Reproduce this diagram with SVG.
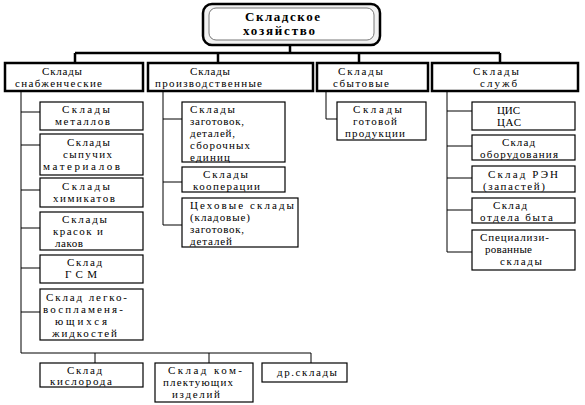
<svg xmlns="http://www.w3.org/2000/svg" width="585" height="405" viewBox="0 0 585 405">
<style>
text{font-family:"Liberation Serif","DejaVu Serif","Times New Roman",serif;font-size:11px;fill:#000}
.t{font-weight:bold;font-size:13px}
.b1{fill:#fff;stroke:#000;stroke-width:2.5}
.b2{fill:#fff;stroke:#000;stroke-width:1.2}
.c1{fill:none;stroke:#000;stroke-width:2.5}
.c2{fill:none;stroke:#000;stroke-width:1}
</style>
<rect width="585" height="405" fill="#fff"/>
<g id="connectors">
<path class="c1" d="M290 45V53M75 53H500M75 53V63M218 53V63M359 53V63M500 53V63"/>
<path class="c2" d="M21 91V353H311M21 112H40M21 145H40M21 190H40M21 228H40M21 268H40M21 312H40M95 353V363M209 353V363M311 353V363"/>
<path class="c2" d="M163 91V225M163 119H182M163 182H182M163 225H182"/>
<path class="c2" d="M326 91V119H337"/>
<path class="c2" d="M447 91V252M447 111H472M447 146H472M447 178H472M447 210H472M447 252H472"/>
</g>
<g id="root">
<rect x="203" y="4" width="177" height="41" rx="9" fill="#f2f2f2" stroke="#000" stroke-width="2.5"/>
<rect x="209" y="8" width="165" height="32" rx="7" fill="#fff" stroke="#777" stroke-width="1"/>
<text class="t" x="245" y="21" textLength="75">Складское</text>
<text class="t" x="243" y="35" textLength="72">хозяйство</text>
</g>
<g id="snab">
<rect class="b1" x="5" y="63" width="138" height="28"/>
<text x="42" y="75" textLength="40">Склады</text>
<text x="15" y="87" textLength="87">снабженческие</text>
</g>
<g id="proizv">
<rect class="b1" x="148" y="63" width="165" height="28"/>
<text x="190" y="75" textLength="40">Склады</text>
<text x="155" y="87" textLength="107">производственные</text>
</g>
<g id="sbyt">
<rect class="b1" x="317" y="63" width="111" height="28"/>
<text x="338" y="75" textLength="45">Склады</text>
<text x="333" y="87" textLength="56">сбытовые</text>
</g>
<g id="sluzhb">
<rect class="b1" x="432" y="63" width="146" height="28"/>
<text x="473" y="75" textLength="46">Склады</text>
<text x="480" y="87" textLength="37">служб</text>
</g>
<g id="metall">
<rect class="b2" x="40" y="102" width="103" height="28"/>
<text x="62" y="113" textLength="48">Склады</text>
<text x="55" y="125" textLength="55">металлов</text>
</g>
<g id="sypuch">
<rect class="b2" x="40" y="134" width="103" height="41"/>
<text x="67" y="146" textLength="43">Склады</text>
<text x="63" y="158" textLength="49">сыпучих</text>
<text x="43" y="170" textLength="77">материалов</text>
</g>
<g id="himik">
<rect class="b2" x="40" y="178" width="103" height="29"/>
<text x="62" y="190" textLength="48">Склады</text>
<text x="53" y="202" textLength="62">химикатов</text>
</g>
<g id="krasok">
<rect class="b2" x="40" y="212" width="103" height="38"/>
<text x="62" y="223" textLength="45">Склады</text>
<text x="53" y="235" textLength="50">красок и</text>
<text x="55" y="247" textLength="28">лаков</text>
</g>
<g id="gsm">
<rect class="b2" x="40" y="255" width="103" height="28"/>
<text x="67" y="266" textLength="35">Склад</text>
<text x="65" y="278" textLength="32">ГСМ</text>
</g>
<g id="legko">
<rect class="b2" x="40" y="289" width="103" height="51"/>
<text x="46" y="301" textLength="81">Склад легко-</text>
<text x="43" y="313" textLength="80">воспламеня-</text>
<text x="55" y="325" textLength="52">ющихся</text>
<text x="52" y="337" textLength="65">жидкостей</text>
</g>
<g id="kislorod">
<rect class="b2" x="40" y="363" width="103" height="24"/>
<text x="67" y="374" textLength="35">Склад</text>
<text x="50" y="385" textLength="62">кислорода</text>
</g>
<g id="komplekt">
<rect class="b2" x="155" y="363" width="98" height="39"/>
<text x="168" y="374" textLength="74">Склад ком-</text>
<text x="163" y="386" textLength="70">плектующих</text>
<text x="172" y="398" textLength="48">изделий</text>
</g>
<g id="dr">
<rect class="b2" x="262" y="363" width="85" height="19"/>
<text x="277" y="376" textLength="60">др.склады</text>
</g>
<g id="zagot">
<rect class="b2" x="182" y="102" width="103" height="60"/>
<text x="190" y="113" textLength="45">Склады</text>
<text x="190" y="125" textLength="54">заготовок,</text>
<text x="190" y="137" textLength="45">деталей,</text>
<text x="190" y="149" textLength="60">сборочных</text>
<text x="190" y="161" textLength="40">единиц</text>
</g>
<g id="kooper">
<rect class="b2" x="182" y="167" width="103" height="25"/>
<text x="203" y="178" textLength="45">Склады</text>
<text x="193" y="190" textLength="67">кооперации</text>
</g>
<g id="cehov">
<rect class="b2" x="182" y="198" width="116" height="49"/>
<text x="190" y="209" textLength="104">Цеховые склады</text>
<text x="190" y="221" textLength="60">(кладовые)</text>
<text x="190" y="233" textLength="54">заготовок,</text>
<text x="190" y="245" textLength="42">деталей</text>
</g>
<g id="gotov">
<rect class="b2" x="337" y="102" width="89" height="38"/>
<text x="353" y="113" textLength="49">Склады</text>
<text x="353" y="125" textLength="44">готовой</text>
<text x="345" y="137" textLength="60">продукции</text>
</g>
<g id="cis">
<rect class="b2" x="472" y="102" width="103" height="28"/>
<text x="497" y="114" textLength="23">ЦИС</text>
<text x="497" y="126" textLength="24">ЦАС</text>
</g>
<g id="oborud">
<rect class="b2" x="472" y="135" width="103" height="25"/>
<text x="502" y="146" textLength="33">Склад</text>
<text x="480" y="158" textLength="78">оборудования</text>
</g>
<g id="ren">
<rect class="b2" x="472" y="166" width="103" height="26"/>
<text x="488" y="178" textLength="70">Склад РЭН</text>
<text x="483" y="190" textLength="62">(запастей)</text>
</g>
<g id="byt">
<rect class="b2" x="472" y="198" width="103" height="25"/>
<text x="493" y="209" textLength="34">Склад</text>
<text x="480" y="221" textLength="73">отдела быта</text>
</g>
<g id="spec">
<rect class="b2" x="472" y="230" width="103" height="40"/>
<text x="480" y="241" textLength="69">Специализи-</text>
<text x="485" y="253" textLength="47">рованные</text>
<text x="500" y="265" textLength="42">склады</text>
</g>
</svg>
